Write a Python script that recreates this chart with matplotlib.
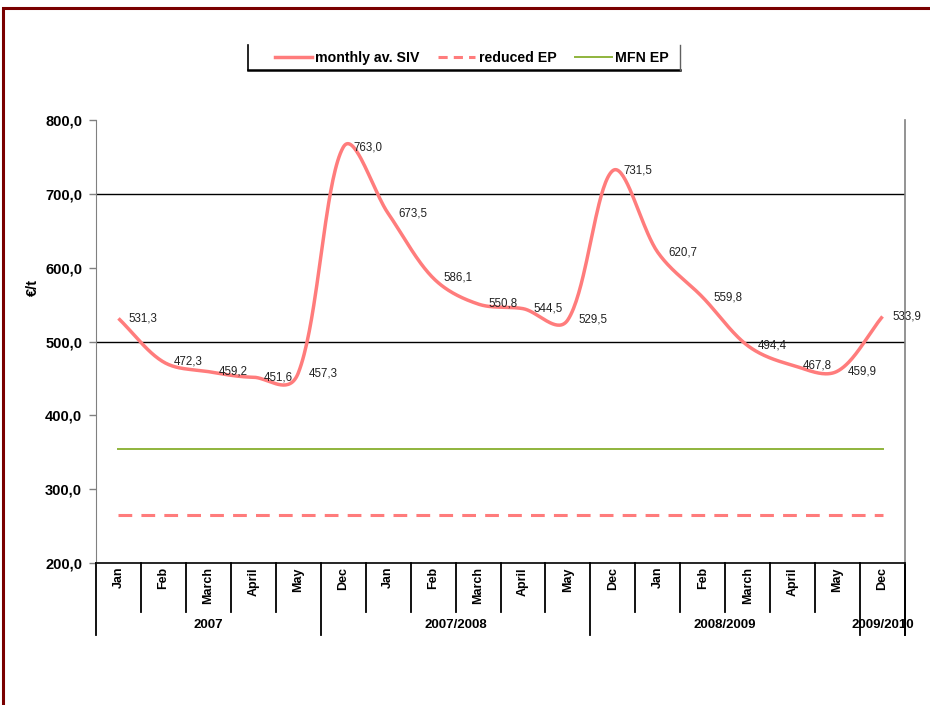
import matplotlib
matplotlib.use("Agg")
import matplotlib.pyplot as plt
import numpy as np
from matplotlib.lines import Line2D
from matplotlib.patches import Rectangle
from matplotlib.ticker import FuncFormatter
import matplotlib.transforms as mtransforms

plt.rcParams['font.family'] = ['Liberation Sans', 'DejaVu Sans']

# ---- data ----
months = ["Jan", "Feb", "March", "April", "May",
          "Dec", "Jan", "Feb", "March", "April", "May",
          "Dec", "Jan", "Feb", "March", "April", "May",
          "Dec"]
seasons = ["2007", "2007/2008", "2008/2009", "2009/2010"]
season_sizes = [5, 6, 6, 1]
siv = [531.3, 472.3, 459.2, 451.6, 457.3,
       763.0, 673.5, 586.1, 550.8, 544.5, 529.5,
       731.5, 620.7, 559.8, 494.4, 467.8, 459.9,
       533.9]
reduced_ep = [265.0] * 18
mfn_ep = [354.0] * 18

W, H = 930, 705
fig = plt.figure(figsize=(W / 100, H / 100), dpi=100)
fig.patch.set_facecolor("white")


def fx(px):
    return px / W


def fy(py):
    return 1 - py / H


# outer frame
fig.add_artist(Rectangle((fx(3), fy(725)), fx(960), fy(8) - fy(725),
                         transform=fig.transFigure, fill=False,
                         edgecolor="#7a0000", linewidth=2.2, clip_on=False))

L, R, T, B = 96, 905, 120, 563
ax = fig.add_axes([fx(L), fy(B), fx(R) - fx(L), fy(T) - fy(B)])

n = len(siv)
x = np.arange(n)
YMIN, YMAX = 200, 800
sx_scale = (R - L) / n               # pixels per category
sy_scale = (B - T) / (YMAX - YMIN)   # pixels per value unit


def smooth(xs, ys, steps=40, mix=0.55):
    """Bezier smoothing through every point. Handle lengths are a mix of
    plain Catmull-Rom handles and handles scaled by the neighbouring
    segment lengths measured on screen."""
    P = np.column_stack([np.asarray(xs, float) * sx_scale,
                         np.asarray(ys, float) * sy_scale])
    m = len(P)
    tang = np.zeros_like(P)
    h_prev = np.zeros(m)
    h_next = np.zeros(m)
    for i in range(m):
        a = P[max(i - 1, 0)]
        b = P[min(i + 1, m - 1)]
        d = b - a
        dn = np.hypot(*d)
        tang[i] = d / dn if dn > 0 else 0
        d0 = np.hypot(*(P[i] - a))
        d1 = np.hypot(*(b - P[i]))
        tot = d0 + d1
        cr = dn / 6
        h_prev[i] = mix * (d0 / 3 * dn / tot) + (1 - mix) * cr
        h_next[i] = mix * (d1 / 3 * dn / tot) + (1 - mix) * cr
    outx, outy = [], []
    t = np.linspace(0, 1, steps)[:, None]
    for i in range(m - 1):
        p1, p2 = P[i], P[i + 1]
        c1 = p1 + tang[i] * h_next[i] if i > 0 else p1 + (p2 - p1) / 3
        c2 = p2 - tang[i + 1] * h_prev[i + 1] if i + 1 < m - 1 else p2 - (p2 - p1) / 3
        bz = (1 - t) ** 3 * p1 + 3 * (1 - t) ** 2 * t * c1 + 3 * (1 - t) * t ** 2 * c2 + t ** 3 * p2
        outx.extend(bz[:, 0] / sx_scale)
        outy.extend(bz[:, 1] / sy_scale)
    return np.array(outx), np.array(outy)


sx, sy = smooth(x, siv)
pink = "#ff7c7c"
green = "#8fb43c"

ax.axhline(500, color="black", lw=1.0, zorder=1)
ax.axhline(700, color="black", lw=1.0, zorder=1)

ax.plot(x, reduced_ep, color=pink, lw=2.2, dashes=(4.5, 3), zorder=3)
ax.plot(x, mfn_ep, color=green, lw=1.4, zorder=3)
ax.plot(sx, sy, color=pink, lw=2.5, zorder=4, solid_capstyle="butt")

for xi, v in zip(x, siv):
    ax.annotate(f"{v:.1f}".replace(".", ","), (xi, v), xytext=(7.5, 0),
                textcoords="offset points", ha="left", va="center",
                fontsize=8.3, color="#222222", zorder=5)

ax.set_xlim(-0.5, n - 0.5)
ax.set_ylim(YMIN, YMAX)
ax.set_yticks(np.arange(200, 801, 100))
ax.yaxis.set_major_formatter(FuncFormatter(lambda v, p: f"{v:.1f}".replace(".", ",")))
ax.tick_params(axis="y", direction="out", length=5, width=1, color="#808080",
               labelsize=10.5, pad=5)
for lab in ax.get_yticklabels():
    lab.set_fontweight("bold")
ax.set_xticks([])
ax.spines["top"].set_visible(False)
ax.spines["left"].set_color("#808080")
ax.spines["right"].set_color("#808080")
ax.spines["right"].set_linewidth(1.2)
ax.spines["bottom"].set_color("black")
ax.spines["bottom"].set_linewidth(1.2)

ax.set_ylabel("€/t", fontsize=10.5, fontweight="bold")
ax.yaxis.set_label_coords((40 - L) / (R - L), (B - 287) / (B - T))

# category axis: month labels, separators and season labels
trans = mtransforms.blended_transform_factory(ax.transData, ax.transAxes)


def ay(py):
    return (B - py) / (B - T)


for i, m in enumerate(months):
    ax.text(i, ay(567), m, rotation=90, ha="center", va="top",
            fontsize=9, fontweight="bold", transform=trans)

bounds = np.cumsum([0] + season_sizes) - 0.5
for b in np.arange(-0.5, n, 1.0):
    bottom = 635 if np.any(np.isclose(bounds, b)) else 612
    ax.add_line(Line2D([b, b], [ay(B), ay(bottom)], transform=trans,
                       color="black", lw=1.3, clip_on=False))
ax.add_line(Line2D([n - 0.5, n - 0.5], [ay(B), ay(635)], transform=trans,
                   color="black", lw=1.3, clip_on=False))

start = 0
for name, size in zip(seasons, season_sizes):
    centre = start + (size - 1) / 2
    ax.text(centre, ay(625), name, ha="center", va="center",
            fontsize=9.5, fontweight="bold", transform=trans)
    start += size

# legend
handles = [Line2D([], [], color=pink, lw=2.5),
           Line2D([], [], color=pink, lw=2.2, dashes=(3, 2)),
           Line2D([], [], color=green, lw=1.4)]
labels = ["monthly av. SIV", "reduced EP", "MFN EP"]
fig.legend(handles, labels, loc="center", bbox_to_anchor=(fx(472), fy(58)),
           ncol=3, frameon=False, handlelength=2.6, handletextpad=0.25,
           columnspacing=1.3, prop={"size": 10.2, "weight": "bold"})
fig.add_artist(Line2D([fx(248), fx(248)], [fy(45), fy(70)], color="black", lw=1.2))
fig.add_artist(Line2D([fx(248), fx(680)], [fy(70), fy(70)], color="black", lw=1.8))
fig.add_artist(Line2D([fx(680), fx(680)], [fy(45), fy(70)], color="#606060", lw=1.0))

fig.savefig("out.png", dpi=100)
